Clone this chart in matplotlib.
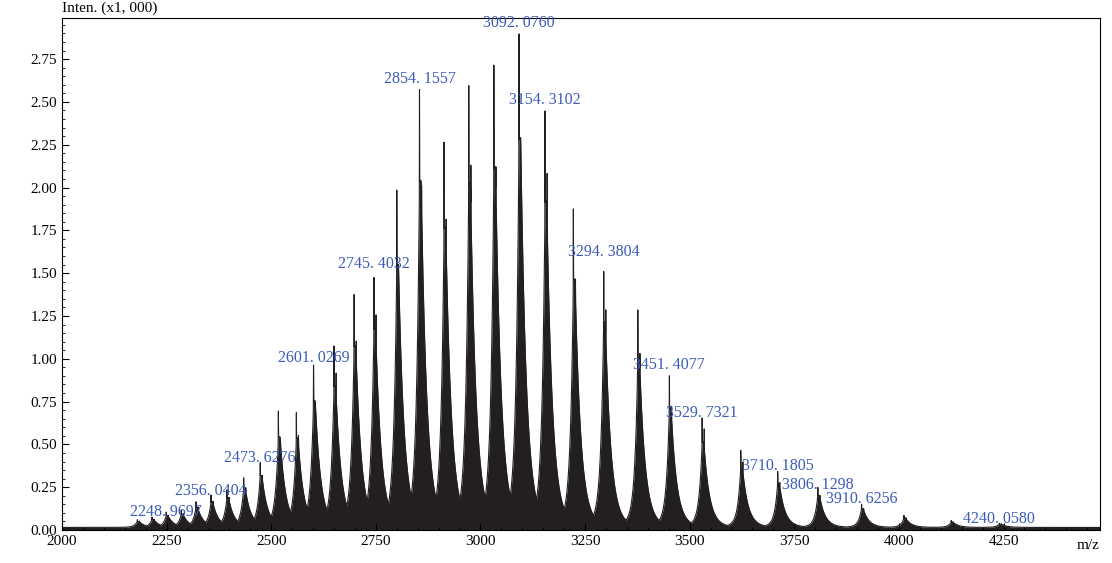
import numpy as np
import matplotlib.pyplot as plt
from matplotlib.ticker import MultipleLocator, FuncFormatter

# ---------------------------------------------------
# Peak list (m/z, intensity x1000)
# ---------------------------------------------------
peak_mz = [2180, 2215, 2248.97, 2285, 2320, 2356.04, 2394, 2434, 2473.63, 2517,
           2560, 2601.03, 2650, 2698, 2745.40, 2800, 2854.16, 2913, 2972, 3032,
           3092.08, 3154.31, 3222, 3294.38, 3376, 3451.41, 3529.73, 3622,
           3710.18, 3806.13, 3910.63, 4012, 4125, 4240.06]
peak_int = [0.045, 0.06, 0.09, 0.10, 0.15, 0.19, 0.22, 0.29, 0.39, 0.68,
            0.67, 0.95, 1.06, 1.36, 1.49, 1.97, 2.60, 2.25, 2.58, 2.70,
            2.92, 2.45, 1.86, 1.54, 1.27, 0.90, 0.64, 0.45,
            0.33, 0.24, 0.14, 0.07, 0.04, 0.025]
# the shoulder line just right of each main line, as fraction of main height
shoulder_frac = [0.8, 0.8, 0.8, 0.8, 0.8, 0.8, 0.8, 0.8, 0.8, 0.75,
                 0.8, 0.72, 0.85, 0.8, 0.85, 0.7, 0.78, 0.8, 0.82, 0.78,
                 0.72, 0.85, 0.78, 0.85, 0.8, 0.8, 0.9, 0.85,
                 0.8, 0.8, 0.8, 0.8, 0.8, 0.8]

label_mz = ["2248.9697", "2356.0404", "2473.6276", "2601.0269", "2745.4032",
            "2854.1557", "3092.0760", "3154.3102", "3294.3804", "3451.4077",
            "3529.7321", "3710.1805", "3806.1298", "3910.6256", "4240.0580"]
label_y = [0.045, 0.165, 0.36, 0.94, 1.49, 2.57, 2.90, 2.45, 1.56, 0.90,
           0.62, 0.31, 0.20, 0.12, 0.0]

# ---------------------------------------------------
# Build profile from the peak list
# ---------------------------------------------------
mz = np.arange(2000, 4480, 0.25)
prof = np.zeros_like(mz)
for c, h, f in zip(peak_mz, peak_int, shoulder_frac):
    d = mz - c
    body = np.where(d < 0, np.exp(d / 7.0), np.exp(-(d - 4) / 13.0).clip(max=1)) * h * 0.72
    body += np.exp(-np.abs(d - 3) / 30.0) * h * 0.06
    line = np.exp(-(d / 0.7) ** 2) * h
    sh = np.exp(-((d - 5) / 0.7) ** 2) * h * f
    prof = np.maximum(prof, np.maximum.reduce([body, line, sh]))
prof += 0.015

plt.rcParams["font.family"] = ["Liberation Serif", "DejaVu Serif"]

fig = plt.figure(figsize=(11.12, 5.63), dpi=100)
ax = fig.add_axes([0.0558, 0.0586, 0.9332, 0.9094])
ax.fill_between(mz, 0, prof, color="#231f20", lw=0)
ax.plot(mz, prof, color="#231f20", lw=0.8)

for lab, y in zip(label_mz, label_y):
    x = float(lab)
    ax.text(x, y + 0.015, lab.replace(".", ". "), color="#3a5bb8",
            fontsize=11.5, ha="center", va="bottom")

ax.set_xlim(2000, 4480)
ax.set_ylim(0, 2.99)
ax.xaxis.set_major_locator(MultipleLocator(250))
ax.xaxis.set_minor_locator(MultipleLocator(50))
ax.yaxis.set_major_locator(MultipleLocator(0.25))
ax.yaxis.set_minor_locator(MultipleLocator(0.05))
ax.yaxis.set_major_formatter(FuncFormatter(lambda v, p: f"{v:.2f}"))
ax.tick_params(which="both", direction="in", labelsize=11)
ax.tick_params(which="major", length=5)
ax.tick_params(which="minor", length=2.5)

ax.text(0, 1.005, "Inten. (x1, 000)", transform=ax.transAxes, fontsize=11,
        ha="left", va="bottom")
ax.text(1.0, -0.018, "m/z", transform=ax.transAxes, fontsize=11,
        ha="right", va="top")

fig.savefig("out.png", dpi=100)
